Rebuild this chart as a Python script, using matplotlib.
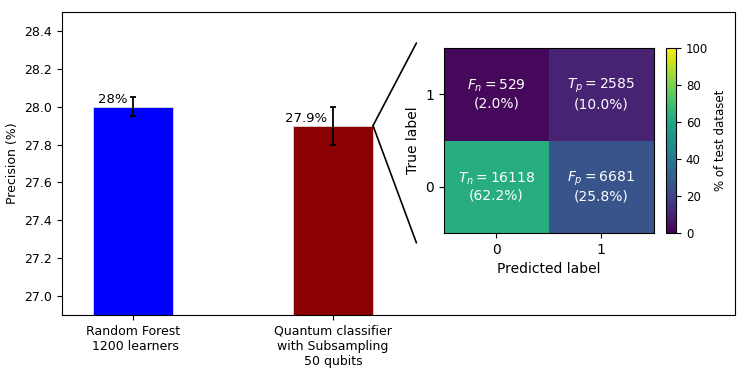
import matplotlib
matplotlib.use("Agg")
import matplotlib.pyplot as plt
import numpy as np
from matplotlib.patches import ConnectionPatch

# bar data
models = ["Random Forest\n 1200 learners", "Quantum classifier\nwith Subsampling\n50 qubits"]
precision = [28.0, 27.9]
precision_err = [0.05, 0.1]
bar_labels = ["28%", "27.9%"]
bar_colors = ["blue", "darkred"]

# confusion matrix (rows: true 0, 1 ; cols: predicted 0, 1)
cm_counts = np.array([[16118, 6681], [529, 2585]])
cm_pct = np.array([[62.2, 25.8], [2.0, 10.0]])
cm_names = [["T_n", "F_p"], ["F_n", "T_p"]]

fig = plt.figure(figsize=(7.47, 3.75), dpi=100)
ax = fig.add_axes([0.083, 0.16, 0.901, 0.808])

x = np.arange(len(models))
ax.bar(x, precision, width=0.4, color=bar_colors, edgecolor="#dddddd", linewidth=0.6,
       yerr=precision_err, capsize=2, error_kw=dict(elinewidth=1.3, capthick=1.3))
for xi, v, lab in zip(x, precision, bar_labels):
    ax.text(xi - 0.03, v + 0.005, lab, ha="right", va="bottom", fontsize=9.5)

ax.set_ylim(26.9, 28.5)
ax.set_xlim(-0.355, 3.01)
ax.set_xticks(x)
ax.set_xticklabels(models, fontsize=9)
ax.set_yticks(np.arange(27.0, 28.41, 0.2))
ax.tick_params(axis="y", labelsize=9)
ax.set_ylabel("Precision (%)", fontsize=9)

# inset confusion matrix
axin = fig.add_axes([0.594, 0.379, 0.281, 0.493])
im = axin.imshow(cm_pct, cmap="viridis", vmin=0, vmax=100, origin="lower", aspect="auto")
for i in range(2):
    for j in range(2):
        axin.text(j, i, "$%s = %d$\n(%.1f%%)" % (cm_names[i][j], cm_counts[i][j], cm_pct[i][j]),
                  ha="center", va="center", color="white", fontsize=10)
axin.set_xticks([0, 1])
axin.set_yticks([0, 1])
axin.tick_params(labelsize=10)
axin.set_xlabel("Predicted label", fontsize=10)
axin.set_ylabel("True label", fontsize=10)

cax = fig.add_axes([0.8916, 0.379, 0.0134, 0.493])
cb = fig.colorbar(im, cax=cax)
cb.set_label("% of test dataset", fontsize=8.5)
cb.ax.tick_params(labelsize=8.5)
cb.set_ticks([0, 20, 40, 60, 80, 100])

# zoom lines from second bar to the inset
for yy in [1.027, -0.054]:
    con = ConnectionPatch(xyA=(x[1] + 0.2, precision[1]), coordsA=ax.transData,
                          xyB=(-0.13, yy), coordsB=axin.transAxes, color="black", linewidth=1.2)
    fig.add_artist(con)

fig.savefig("out.png", dpi=100)
